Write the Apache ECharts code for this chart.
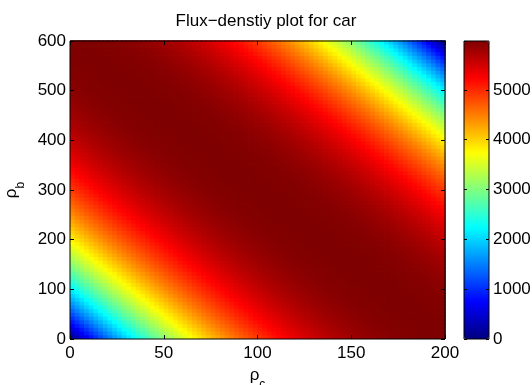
<!DOCTYPE html>
<html><head><meta charset="utf-8">
<script src="https://cdn.jsdelivr.net/npm/echarts@6/dist/echarts.min.js"></script>
<style>html,body{margin:0;padding:0;background:#fff}#c{width:532px;height:385px}</style>
</head><body><div id="c"></div>
<script>
const titleText = 'Flux\u2212denstiy plot for car';
const rhoCRange = [0, 200];
const rhoBRange = [0, 600];
const rhoCStep = 2.5;       // grid spacing of the image in ρc
const rhoBStep = 7.5;       // grid spacing of the image in ρb
const fluxMax = 5980;
const colorTicks = [0, 1000, 2000, 3000, 4000, 5000];
const fluxAlongDiagonal = [
  0,181,359,534,706,875,1040,1202,1360,1516,
  1668,1818,1964,2107,2247,2384,2518,2650,2778,2903,
  3025,3144,3260,3374,3485,3592,3697,3799,3899,3995,
  4089,4181,4269,4355,4439,4519,4598,4673,4746,4817,
  4886,4951,5015,5076,5134,5191,5245,5297,5347,5394,
  5439,5482,5523,5562,5599,5634,5667,5698,5727,5754,
  5780,5803,5825,5846,5864,5881,5896,5910,5923,5934,
  5943,5952,5959,5965,5970,5973,5976,5978,5979,5980,
  5980,
  5980,5979,5978,5976,5973,5970,5965,5959,5952,5943,
  5934,5923,5910,5896,5881,5864,5846,5825,5803,5780,
  5754,5727,5698,5667,5634,5599,5562,5523,5482,5439,
  5394,5347,5297,5245,5191,5134,5076,5015,4951,4886,
  4817,4746,4673,4598,4519,4439,4355,4269,4181,4089,
  3995,3899,3799,3697,3592,3485,3374,3260,3144,3025,
  2903,2778,2650,2518,2384,2247,2107,1964,1818,1668,
  1516,1360,1202,1040,875,706,534,359,181,0
];
const jet = ['#00007F','#0000FF','#007FFF','#00FFFF','#7FFF7F','#FFFF00','#FF7F00','#FF0000','#7F0000'];

// build the image table: [ρc centre, ρb centre, flux]
const nC = Math.round((rhoCRange[1] - rhoCRange[0]) / rhoCStep);
const nB = Math.round((rhoBRange[1] - rhoBRange[0]) / rhoBStep);
const cells = [];
for (let j = 0; j < nB; j++) for (let i = 0; i < nC; i++)
  cells.push([rhoCRange[0] + rhoCStep * (i + 0.5), rhoBRange[0] + rhoBStep * (j + 0.5), fluxAlongDiagonal[i + j + 1]]);

const FONT = '"Liberation Sans", Arial, Helvetica, sans-serif';
const lbl = {color: '#000', fontSize: 17, fontFamily: FONT};
const tick = (len) => ({show: true, inside: true, length: len, lineStyle: {color: '#000', width: 1}});
const noLine = {show: false, onZero: false};
const plain = (v) => String(v);
const richName = {
  r: {fontSize: 17, lineHeight: 20, verticalAlign: 'top', fontFamily: FONT, color: '#000'},
  s: {fontSize: 12, lineHeight: 12, padding: [12, 0, 0, 0], verticalAlign: 'top', fontFamily: FONT, color: '#000'}
};

const chart = echarts.init(document.getElementById('c'), null, {renderer: 'canvas'});
chart.setOption({
  animation: false,
  backgroundColor: '#fff',
  title: {
    text: titleText, left: 'center', top: 11, padding: [0, 17, 0, 0],
    textStyle: {fontSize: 17, fontWeight: 'normal', color: '#000', fontFamily: FONT, lineHeight: 20}
  },
  grid: [
    {left: 70, top: 41, width: 375, height: 298, show: true, backgroundColor: 'transparent', borderColor: '#000', borderWidth: 1, z: 10, containLabel: false, outerBoundsMode: 'none'},
    {left: 464, top: 41, width: 25, height: 298, show: true, backgroundColor: 'transparent', borderColor: '#000', borderWidth: 1, z: 10, containLabel: false, outerBoundsMode: 'none'}
  ],
  xAxis: [
    {gridIndex: 0, type: 'value', position: 'bottom', min: rhoCRange[0], max: rhoCRange[1], interval: 50, z: 10,
     axisLine: noLine, axisTick: tick(4), splitLine: {show: false},
     axisLabel: Object.assign({margin: 6, formatter: plain}, lbl),
     name: '{r|\u03c1}{s|c}', nameLocation: 'middle', nameGap: 27,
     nameTextStyle: {fontFamily: FONT, color: '#000', rich: richName}},
    {gridIndex: 0, type: 'value', position: 'top', min: rhoCRange[0], max: rhoCRange[1], interval: 50, z: 10,
     axisLine: noLine, axisTick: tick(4), splitLine: {show: false}, axisLabel: {show: false}},
    {gridIndex: 1, type: 'value', min: 0, max: 1, show: false, axisLine: noLine}
  ],
  yAxis: [
    {gridIndex: 0, type: 'value', position: 'left', min: rhoBRange[0], max: rhoBRange[1], interval: 100, z: 10,
     axisLine: noLine, axisTick: tick(4), splitLine: {show: false},
     axisLabel: Object.assign({margin: 4, formatter: plain}, lbl),
     name: '{r|\u03c1}{s|b}', nameLocation: 'middle', nameGap: 40,
     nameTextStyle: {fontFamily: FONT, color: '#000', rich: richName}},
    {gridIndex: 0, type: 'value', position: 'right', min: rhoBRange[0], max: rhoBRange[1], interval: 100, z: 10,
     axisLine: noLine, axisTick: tick(4), splitLine: {show: false}, axisLabel: {show: false}},
    {gridIndex: 1, type: 'value', position: 'right', min: 0, max: fluxMax, interval: colorTicks[1] - colorTicks[0], z: 10,
     axisLine: noLine, axisTick: tick(3), splitLine: {show: false},
     axisLabel: Object.assign({margin: 4, showMaxLabel: false, formatter: plain}, lbl)},
    {gridIndex: 1, type: 'value', position: 'left', min: 0, max: fluxMax, interval: colorTicks[1] - colorTicks[0], z: 10,
     axisLine: noLine, axisTick: tick(3), splitLine: {show: false}, axisLabel: {show: false}}
  ],
  visualMap: {
    type: 'continuous', min: 0, max: fluxMax, seriesIndex: 0, dimension: 2, orient: 'vertical',
    left: 464, top: 41, itemWidth: 25, itemHeight: 298, padding: 0, calculable: false,
    inRange: {color: jet}, textStyle: {color: '#000'}, hoverLink: false
  },
  series: [{
    type: 'custom', xAxisIndex: 0, yAxisIndex: 0, data: cells, silent: true, clip: true,
    encode: {x: 0, y: 1},
    renderItem: function (params, api) {
      const c = api.value(0), b = api.value(1);
      const p0 = api.coord([c - rhoCStep / 2, b + rhoBStep / 2]);
      const p1 = api.coord([c + rhoCStep / 2, b - rhoBStep / 2]);
      return {
        type: 'rect',
        shape: {x: p0[0], y: p0[1] - 0.8, width: p1[0] - p0[0] + 0.8, height: p1[1] - p0[1] + 0.8},
        style: {fill: api.visual('color'), stroke: null, lineWidth: 0}
      };
    }
  }]
});
</script></body></html>
